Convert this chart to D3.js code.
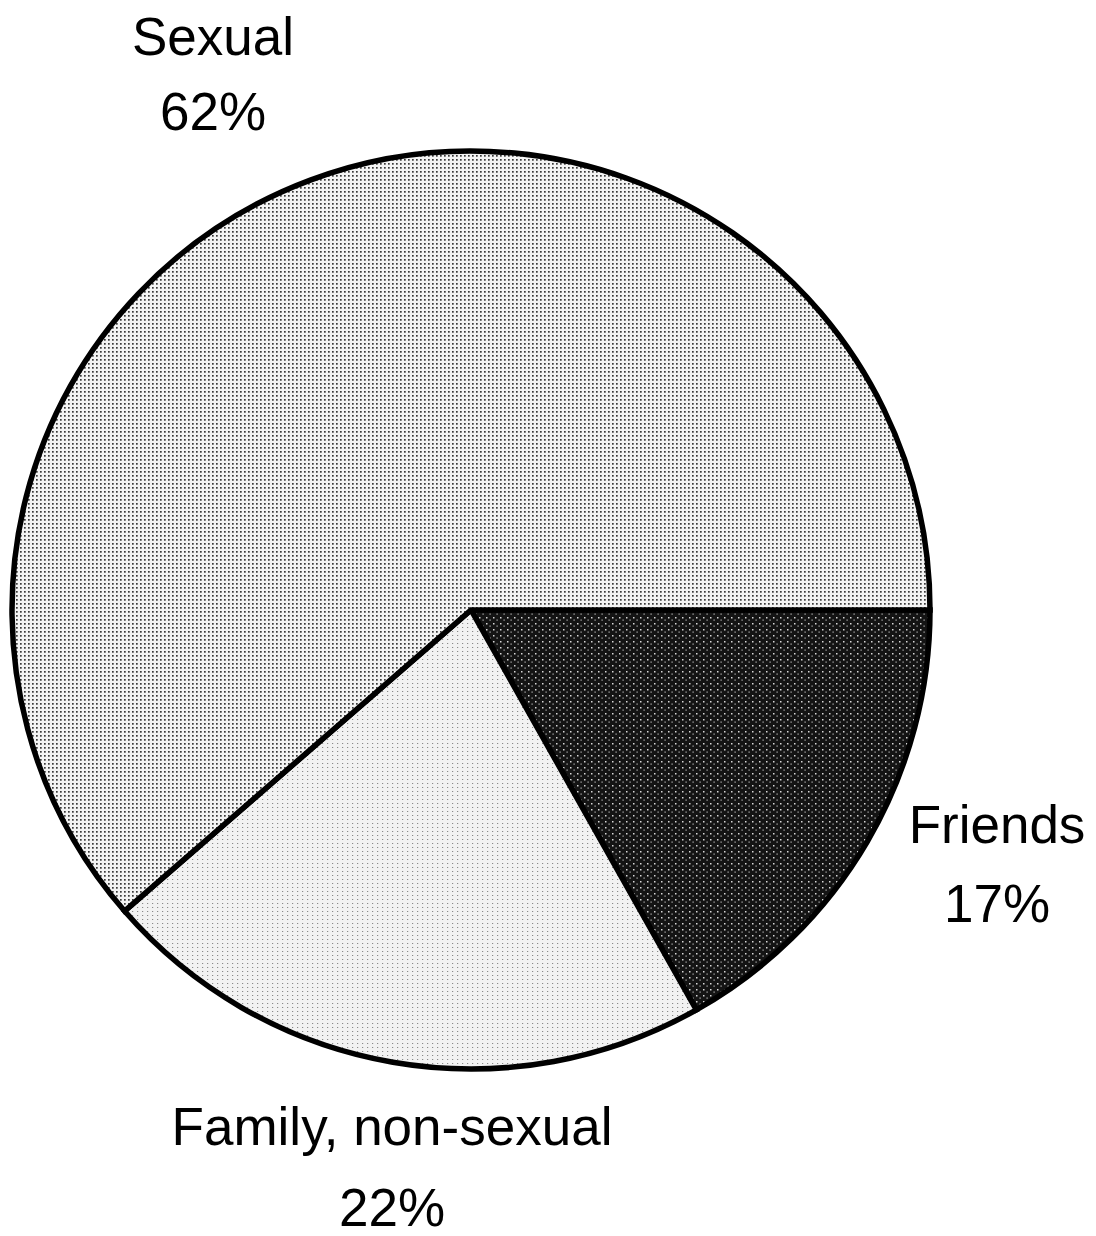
<!DOCTYPE html>
<html>
<head>
<meta charset="utf-8">
<script src="https://cdn.jsdelivr.net/npm/d3@7"></script>
<style>
  body { margin: 0; background: #fff; }
  .label { font-family: "Liberation Sans", Arial, Helvetica, sans-serif; font-size: 53px; fill: #000; }
</style>
</head>
<body>
<div id="main"></div>
<script>
// slice data, in drawing order (clockwise from 3 o'clock)
var categories = ["Friends", "Family, non-sexual", "Sexual"];
var values = [17, 22, 62];
var percentLabels = ["17%", "22%", "62%"];

var width = 1096, height = 1236;
var cx = 471, cy = 610, radius = 459;

var svg = d3.select("#main")
    .append("svg")
    .attr("width", width)
    .attr("height", height);

// halftone-ish textures for the slices
var defs = svg.append("defs");

var pSexual = defs.append("pattern")
    .attr("id", "pat-sexual")
    .attr("patternUnits", "userSpaceOnUse")
    .attr("width", 4).attr("height", 4);
pSexual.append("rect").attr("width", 4).attr("height", 4).attr("fill", "#f4f4f4");
pSexual.append("rect").attr("x", 1).attr("y", 1).attr("width", 1.7).attr("height", 1.7).attr("fill", "#3a3a3a");

var pFamily = defs.append("pattern")
    .attr("id", "pat-family")
    .attr("patternUnits", "userSpaceOnUse")
    .attr("width", 5).attr("height", 4);
pFamily.append("rect").attr("width", 5).attr("height", 4).attr("fill", "#f2f2f2");
pFamily.append("rect").attr("x", 1).attr("y", 1).attr("width", 1.2).attr("height", 1).attr("fill", "#8a8a8a");

var pFriends = defs.append("pattern")
    .attr("id", "pat-friends")
    .attr("patternUnits", "userSpaceOnUse")
    .attr("width", 7).attr("height", 6);
pFriends.append("rect").attr("width", 7).attr("height", 6).attr("fill", "#141414");
pFriends.append("rect").attr("x", 1).attr("y", 1).attr("width", 1.5).attr("height", 1.5).attr("fill", "#d8d8d8");
pFriends.append("rect").attr("x", 4.5).attr("y", 3.5).attr("width", 1.2).attr("height", 1.2).attr("fill", "#bcbcbc");

var fills = d3.scaleOrdinal()
    .domain(categories)
    .range(["url(#pat-friends)", "url(#pat-family)", "url(#pat-sexual)"]);

var pie = d3.pie()
    .sort(null)
    .value(function (d) { return d.value; })
    .startAngle(Math.PI / 2)
    .endAngle(Math.PI / 2 + 2 * Math.PI);

var data = categories.map(function (c, i) {
    return { name: c, value: values[i], pct: percentLabels[i] };
});
var arcs = pie(data);

var arc = d3.arc().innerRadius(0).outerRadius(radius);

var g = svg.append("g")
    .attr("transform", "translate(" + cx + "," + cy + ")");

g.selectAll("path.slice")
    .data(arcs)
    .enter()
    .append("path")
    .attr("class", "slice")
    .attr("d", arc)
    .attr("fill", function (d) { return fills(d.data.name); })
    .attr("stroke", "#000")
    .attr("stroke-width", 5.5)
    .attr("stroke-linejoin", "miter");

// label placement (relative to pie centre): [dx, first baseline dy, second line gap]
var labelPos = {
    "Friends": [526, 233, 79],
    "Family, non-sexual": [-79, 535, 81],
    "Sexual": [-258, -555, 75]
};

var labels = g.selectAll("g.lab")
    .data(arcs)
    .enter()
    .append("g")
    .attr("class", "lab")
    .attr("transform", function (d) {
        var p = labelPos[d.data.name];
        return "translate(" + p[0] + "," + p[1] + ")";
    });

labels.append("text")
    .attr("class", "label")
    .attr("text-anchor", "middle")
    .text(function (d) { return d.data.name; });

labels.append("text")
    .attr("class", "label")
    .attr("text-anchor", "middle")
    .attr("y", function (d) { return labelPos[d.data.name][2]; })
    .text(function (d) { return d.data.pct; });
</script>
</body>
</html>
